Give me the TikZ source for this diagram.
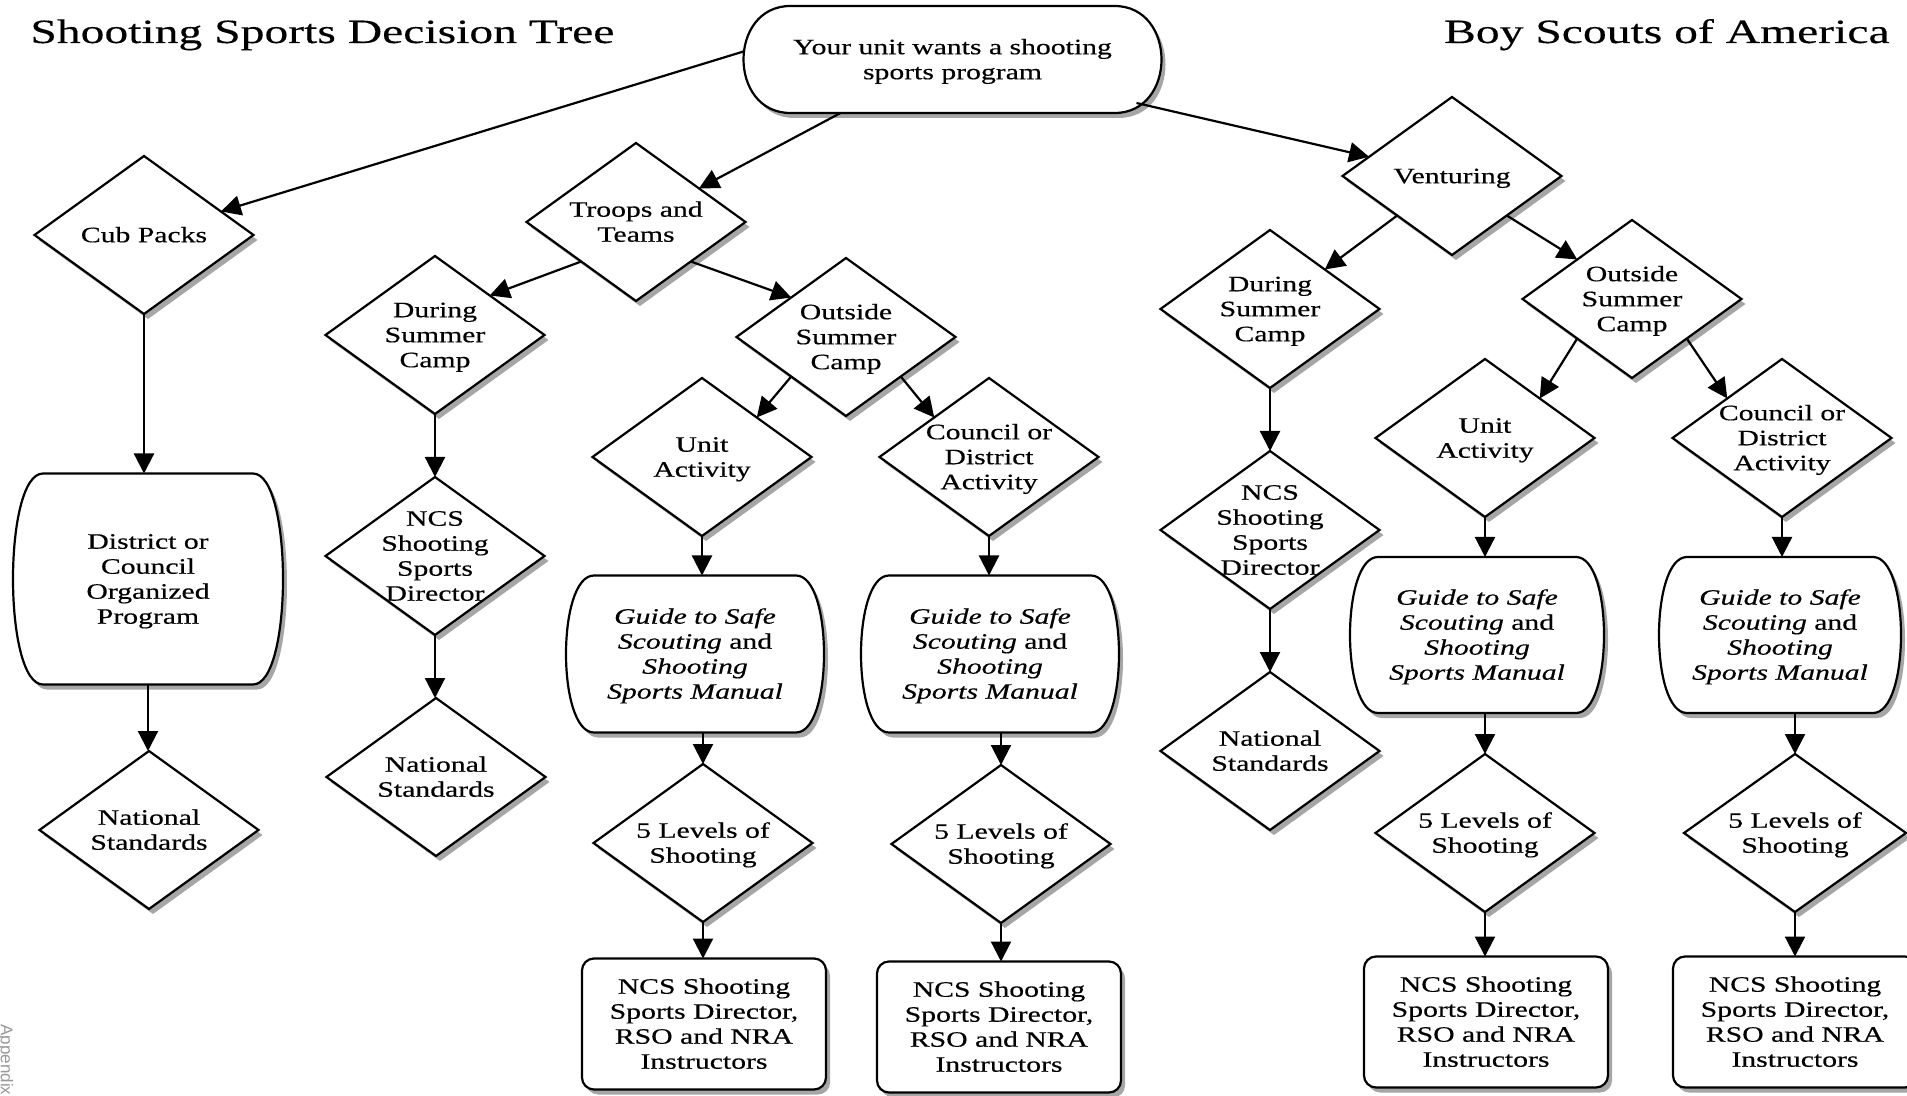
\documentclass[tikz,border=0pt]{standalone}
\usepackage{fontspec}
\setmainfont{Liberation Serif}[FakeStretch=1.35,FakeBold=0.4]
\newfontfamily\titlefont{Liberation Serif}[FakeStretch=1.40,FakeBold=0.3]
\newfontfamily\appfont{Liberation Sans}
\usetikzlibrary{shapes.geometric,arrows.meta,shadows,calc}
\pgfdeclarelayer{background}
\pgfsetlayers{background,main}
\newcommand\zb[1]{\raisebox{-3.85pt}[0pt][0pt]{\makebox[0pt]{\begin{tabular}{@{}c@{}}#1\end{tabular}}}}
\newcommand\barrel[2]{%
  \draw[barrelbox] ([xshift=#2]#1.north west) -- ([xshift=-#2]#1.north east)
   .. controls ([xshift=#2/3]#1.north east) and ([xshift=#2/3]#1.south east) .. ([xshift=-#2]#1.south east)
   -- ([xshift=#2]#1.south west)
   .. controls ([xshift=-#2/3]#1.south west) and ([xshift=-#2/3]#1.north west) .. cycle;}
\tikzset{
  nf/.style={font=\fontsize{11}{12.5}\selectfont},
  shad/.style={drop shadow={shadow xshift=2pt,shadow yshift=-2.5pt,opacity=0.35,fill=black}},
  dia/.style={diamond, draw, fill=white, line width=1.1pt, minimum width=109.5pt, minimum height=79pt, inner sep=0pt, outer sep=0pt, nf, shad},
  bnode/.style={rectangle, inner sep=0pt, outer sep=0pt, nf},
  barrelbox/.style={draw, fill=white, line width=1.1pt, shad},
  ncsbox/.style={rectangle, rounded corners=6pt, draw, fill=white, line width=1.1pt, inner sep=0pt, outer sep=0pt, minimum width=122pt, minimum height=65.5pt, nf, shad},
  arr/.style={-{Triangle[width=10pt,length=10pt]}, line width=1.1pt},
  ttl/.style={inner sep=0pt, font=\titlefont\fontsize{17}{20}\selectfont},
}
\begin{document}
\begin{tikzpicture}[x=0.5pt,y=-0.5pt]
\useasboundingbox (0,0) rectangle (1907,1096);

% titles
\node[ttl, anchor=base west] (t1) at (30,43) {Shooting Sports Decision Tree};
\node[ttl, anchor=base east] (t2) at (1890,43) {Boy Scouts of America};
\node[font=\appfont\fontsize{8.5}{10}\selectfont, text=black!40, rotate=-90, anchor=base west, inner sep=0pt] (app) at (1,1024) {Appendix};

% top
\node[bnode, minimum width=209pt, minimum height=53.5pt] (start) at (952.5,59.5) {\zb{Your unit wants a shooting\\sports program}};
\node[dia] (cub) at (144,235) {\zb{Cub Packs}};
\node[dia] (troops) at (636,222) {\zb{Troops and\\Teams}};
\node[dia] (vent) at (1452,176) {\zb{Venturing}};

% cub packs
\node[bnode, minimum width=135pt, minimum height=105.5pt] (district) at (148,579) {\zb{District or\\Council\\Organized\\Program}};
\node[dia] (ns1) at (149,830) {\zb{National\\Standards}};

% troops
\node[dia] (dsc1) at (435,335) {\zb{During\\Summer\\Camp}};
\node[dia] (ncs1) at (435,556) {\zb{NCS\\Shooting\\Sports\\Director}};
\node[dia] (ns2) at (436,777) {\zb{National\\Standards}};
\node[dia] (osc1) at (846,337) {\zb{Outside\\Summer\\Camp}};
\node[dia] (unit1) at (702,457) {\zb{Unit\\Activity}};
\node[dia] (council1) at (989,457) {\zb{Council or\\District\\Activity}};
\node[bnode, minimum width=129pt, minimum height=78.5pt] (guide1) at (695,654) {\zb{\textit{Guide to Safe}\\\textit{Scouting} and\\\textit{Shooting}\\\textit{Sports Manual}}};
\node[bnode, minimum width=129pt, minimum height=78.5pt] (guide2) at (990,654) {\zb{\textit{Guide to Safe}\\\textit{Scouting} and\\\textit{Shooting}\\\textit{Sports Manual}}};
\node[dia] (lev1) at (703,843) {\zb{5 Levels of\\Shooting}};
\node[dia] (lev2) at (1001,844) {\zb{5 Levels of\\Shooting}};
\node[ncsbox] (box1) at (704,1024) {\zb{NCS Shooting\\Sports Director,\\RSO and NRA\\Instructors}};
\node[ncsbox] (box2) at (999,1027) {\zb{NCS Shooting\\Sports Director,\\RSO and NRA\\Instructors}};

% venturing
\node[dia] (dsc2) at (1270,309) {\zb{During\\Summer\\Camp}};
\node[dia] (ncs2) at (1270,530) {\zb{NCS\\Shooting\\Sports\\Director}};
\node[dia] (ns3) at (1270,751) {\zb{National\\Standards}};
\node[dia] (osc2) at (1632,299) {\zb{Outside\\Summer\\Camp}};
\node[dia] (unit2) at (1485,438) {\zb{Unit\\Activity}};
\node[dia] (council2) at (1782,438) {\zb{Council or\\District\\Activity}};
\node[bnode, minimum width=127pt, minimum height=78pt] (guide3) at (1477,635) {\zb{\textit{Guide to Safe}\\\textit{Scouting} and\\\textit{Shooting}\\\textit{Sports Manual}}};
\node[bnode, minimum width=121pt, minimum height=78pt] (guide4) at (1780,635) {\zb{\textit{Guide to Safe}\\\textit{Scouting} and\\\textit{Shooting}\\\textit{Sports Manual}}};
\node[dia] (lev3) at (1485,833) {\zb{5 Levels of\\Shooting}};
\node[dia, minimum width=111pt] (lev4) at (1795,833) {\zb{5 Levels of\\Shooting}};
\node[ncsbox] (box3) at (1486,1022) {\zb{NCS Shooting\\Sports Director,\\RSO and NRA\\Instructors}};
\node[ncsbox] (box4) at (1795,1022) {\zb{NCS Shooting\\Sports Director,\\RSO and NRA\\Instructors}};

\begin{pgfonlayer}{background}
\fill[white] (0,0) rectangle (1907,1096);
\barrel{start}{23.5pt}
\barrel{district}{15pt}
\barrel{guide1}{14pt}
\barrel{guide2}{14pt}
\barrel{guide3}{14pt}
\barrel{guide4}{14pt}
\end{pgfonlayer}

% connectors
\draw[arr] ($(start.west)+(0,-8)$) -- (cub);
\draw[arr] ($(start.south)+(-112,0)$) -- (troops);
\draw[arr] ($(start.south east)+(-25,-10)$) -- (vent);

\draw[arr] (troops.south west) -- (dsc1.north east);
\draw[arr] (troops.south east) -- (osc1.north west);
\draw[arr] (osc1.south west) -- (unit1.north east);
\draw[arr] (osc1.south east) -- (council1.north west);
\draw[arr] (vent.south west) -- (dsc2.north east);
\draw[arr] (vent.south east) -- (osc2.north west);
\draw[arr] (osc2.south west) -- (unit2.north east);
\draw[arr] (osc2.south east) -- (council2.north west);

\draw[arr] (cub.south) -- (cub.south |- district.north);
\draw[arr] (district.south) -- (district.south |- ns1.north);
\draw[arr] (dsc1.south) -- (dsc1.south |- ncs1.north);
\draw[arr] (ncs1.south) -- (ncs1.south |- ns2.north);
\draw[arr] (unit1.south) -- (unit1.south |- guide1.north);
\draw[arr] (guide1.south -| lev1.north) -- (lev1.north);
\draw[arr] (lev1.south) -- (lev1.south |- box1.north);
\draw[arr] (council1.south) -- (council1.south |- guide2.north);
\draw[arr] (guide2.south -| lev2.north) -- (lev2.north);
\draw[arr] (lev2.south) -- (lev2.south |- box2.north);
\draw[arr] (dsc2.south) -- (dsc2.south |- ncs2.north);
\draw[arr] (ncs2.south) -- (ncs2.south |- ns3.north);
\draw[arr] (unit2.south) -- (unit2.south |- guide3.north);
\draw[arr] (guide3.south -| lev3.north) -- (lev3.north);
\draw[arr] (lev3.south) -- (lev3.south |- box3.north);
\draw[arr] (council2.south) -- (council2.south |- guide4.north);
\draw[arr] (guide4.south -| lev4.north) -- (lev4.north);
\draw[arr] (lev4.south) -- (lev4.south |- box4.north);
\end{tikzpicture}
\end{document}
